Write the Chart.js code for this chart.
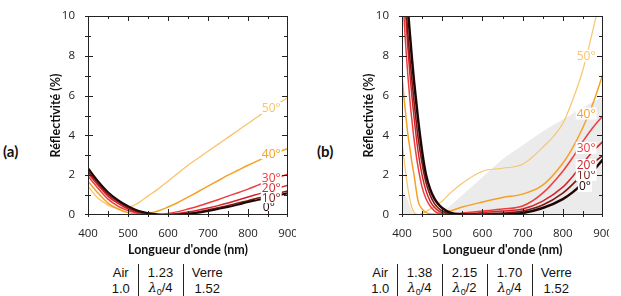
<!DOCTYPE html>
<html>
<head>
<meta charset="utf-8">
<script src="https://cdn.jsdelivr.net/npm/chart.js@4.4.0/dist/chart.umd.min.js"></script>
<style>
  body { margin: 0; background: #fff; width: 621px; height: 296px; overflow: hidden; position: relative; }
  .wrap { position: absolute; top: 0; height: 262px; overflow: hidden; }
  #wrapA { left: 40px; width: 256px; }
  #wrapB { left: 353px; width: 256px; }
  .tag { position: absolute; top: 142px; font: bold 15px Lato, sans-serif; color: #111; }
  table.stack { position: absolute; top: 264px; border-collapse: collapse; table-layout: fixed;
    font: 13px "Liberation Sans", sans-serif; color: #111; }
  table.stack td { height: 16px; line-height: 15px; padding: 0; text-align: center; }
  table.stack td + td { border-left: 1px solid #222; }
  .lam { font-family: "DejaVu Serif", serif; font-style: italic; }
  .sub { font-size: 9px; position: relative; top: 3px; }
</style>
</head>
<body>
<div class="tag" style="left:3px">(a)</div>
<div class="tag" style="left:317px">(b)</div>
<div class="wrap" id="wrapA"><canvas id="chartA" width="270" height="260"></canvas></div>
<div class="wrap" id="wrapB"><canvas id="chartB" width="272" height="260"></canvas></div>

<table class="stack" style="left:104px">
  <colgroup><col style="width:34px"><col style="width:45px"><col style="width:48px"></colgroup>
  <tr><td>Air</td><td>1.23</td><td>Verre</td></tr>
  <tr><td>1.0</td><td><span class="lam">λ</span><span class="sub">0</span>/4</td><td>1.52</td></tr>
</table>
<table class="stack" style="left:364px">
  <colgroup><col style="width:33px"><col style="width:45px"><col style="width:45px"><col style="width:45px"><col style="width:48px"></colgroup>
  <tr><td>Air</td><td>1.38</td><td>2.15</td><td>1.70</td><td>Verre</td></tr>
  <tr><td>1.0</td><td><span class="lam">λ</span><span class="sub">0</span>/4</td><td><span class="lam">λ</span><span class="sub">0</span>/2</td><td><span class="lam">λ</span><span class="sub">0</span>/4</td><td>1.52</td></tr>
</table>

<script>
// incidence angles, shared by both panels
var angles = ['0°', '10°', '20°', '30°', '40°', '50°'];
var angleColors = ['#1f0505', '#7e1a14', '#d0232b', '#ef3d3d', '#f4a125', '#f8c56c'];

// panel (a): single layer, reflectivity (%) vs wavelength (nm)
var waveA = [400, 425, 450, 475, 500, 525, 550, 575, 600, 625, 650, 675, 700, 725, 750, 775, 800, 825, 850, 875, 900];
var a0  = [2.35, 1.7, 1.15, 0.75, 0.45, 0.22, 0.1, 0.03, 0.0, 0.01, 0.05, 0.11, 0.2, 0.3, 0.4, 0.52, 0.65, 0.76, 0.88, 0.99, 1.1];
var a10 = [2.2, 1.6, 1.05, 0.67, 0.37, 0.17, 0.07, 0.02, 0.01, 0.03, 0.08, 0.15, 0.25, 0.36, 0.47, 0.6, 0.72, 0.85, 0.97, 1.09, 1.2];
var a20 = [2.1, 1.5, 0.95, 0.58, 0.3, 0.12, 0.04, 0.01, 0.03, 0.08, 0.15, 0.24, 0.35, 0.47, 0.6, 0.75, 0.9, 1.05, 1.2, 1.35, 1.5];
var a30 = [1.95, 1.35, 0.8, 0.45, 0.22, 0.08, 0.02, 0.03, 0.08, 0.17, 0.3, 0.44, 0.6, 0.77, 0.95, 1.12, 1.3, 1.5, 1.7, 1.88, 2.05];
var a40 = [1.7, 1.1, 0.6, 0.3, 0.12, 0.05, 0.08, 0.2, 0.4, 0.63, 0.9, 1.17, 1.45, 1.72, 2.0, 2.25, 2.5, 2.73, 2.95, 3.15, 3.35];
var a50 = [1.45, 0.85, 0.5, 0.35, 0.38, 0.6, 0.95, 1.3, 1.7, 2.1, 2.5, 2.85, 3.2, 3.55, 3.9, 4.25, 4.6, 4.95, 5.3, 5.6, 5.9];
var labelWaveA = [852, 858, 858, 858, 858, 858];
var labelValA  = [0.4, 0.9, 1.4, 1.9, 3.1, 5.38];

// panel (b): three-layer stack
var waveB = [400, 405, 410, 415, 420, 425, 430, 440, 450, 460, 470, 480, 490, 500, 520, 550, 600, 650, 700, 750, 800, 825, 850, 875, 900];
var b0  = [16, 14, 12, 10.3, 9.0, 7.8, 6.7, 4.8, 3.2, 2.0, 1.3, 0.85, 0.55, 0.35, 0.12, 0.03, 0.0, 0.02, 0.1, 0.35, 0.8, 1.15, 1.6, 2.2, 2.8];
var b10 = [15, 13, 10.5, 9.0, 7.8, 6.7, 5.7, 3.9, 2.6, 1.6, 1.0, 0.6, 0.35, 0.2, 0.07, 0.04, 0.05, 0.1, 0.2, 0.5, 1.1, 1.55, 2.1, 2.6, 3.0];
var b20 = [14, 12, 9.8, 8.3, 7.0, 5.9, 4.9, 3.2, 2.0, 1.2, 0.7, 0.4, 0.22, 0.12, 0.05, 0.05, 0.12, 0.2, 0.3, 0.7, 1.4, 1.95, 2.6, 3.2, 3.7];
var b30 = [12.5, 10, 8.3, 6.9, 5.7, 4.7, 3.8, 2.4, 1.4, 0.8, 0.45, 0.22, 0.1, 0.06, 0.05, 0.1, 0.2, 0.3, 0.45, 1.1, 2.2, 2.9, 3.7, 4.4, 5.0];
var b40 = [7.0, 5.9, 4.9, 4.0, 3.3, 2.6, 2.0, 0.7, 0.3, 0.12, 0.06, 0.05, 0.07, 0.1, 0.2, 0.4, 0.65, 0.88, 1.05, 1.5, 2.6, 3.4, 4.4, 5.6, 7.1];
var b50 = [3.7, 2.8, 2.0, 1.3, 0.75, 0.35, 0.12, 0.02, 0.08, 0.18, 0.3, 0.42, 0.55, 0.7, 1.1, 1.6, 2.2, 2.35, 2.55, 3.4, 4.6, 5.8, 7.3, 9.3, 11.5];
// grey band behind the curves
var waveGrey = [400, 415, 432, 480, 500, 550, 600, 650, 700, 750, 800, 850, 900];
var greyTop  = [1.3, 0.7, 0, 0, 0.15, 1.0, 1.9, 2.8, 3.5, 4.2, 4.8, 5.4, 5.95];
var labelWaveB = [855, 858, 858, 858, 858, 858];
var labelValB  = [1.46, 2.01, 2.51, 3.37, 5.1, 8.0];

function pts(xs, ys) {
    return xs.map(function(x, i) { return { x: x, y: ys[i] }; });
}

function curve(idx, xs, ys, width) {
    return {
        label: angles[idx],
        data: pts(xs, ys),
        borderColor: angleColors[idx],
        borderWidth: width,
        pointRadius: 0,
        fill: false,
        cubicInterpolationMode: 'monotone'
    };
}

// angle labels (white box hides the curve underneath), then the box and its ticks,
// all positioned through the x / y scales
var overlay = {
    id: 'overlay',
    afterDraw: function(chart) {
        var ctx = chart.ctx, x = chart.scales.x, y = chart.scales.y;
        var waves = chart.options.plugins.overlay.waves, vals = chart.options.plugins.overlay.vals;
        ctx.save();
        ctx.font = '12px "Open Sans"';
        ctx.textAlign = 'center';
        ctx.textBaseline = 'middle';
        for (var i = 0; i < waves.length; i++) {
            var lx = x.getPixelForValue(waves[i]), ly = y.getPixelForValue(vals[i]);
            var tw = ctx.measureText(angles[i]).width;
            ctx.fillStyle = '#fff';
            ctx.fillRect(lx - tw / 2 - 1, ly - 6, tw + 2, 12);
            ctx.fillStyle = angleColors[i];
            ctx.fillText(angles[i], lx, ly + 1);
        }

        var L = Math.round(x.getPixelForValue(x.min));
        var R = Math.round(x.getPixelForValue(x.max)) - 1;
        var T = Math.round(y.getPixelForValue(y.max));
        var B = Math.round(y.getPixelForValue(y.min)) - 1;
        ctx.fillStyle = '#222';
        ctx.fillRect(L, T, R - L + 1, 1);
        ctx.fillRect(L, B, R - L + 1, 1);
        ctx.fillRect(L, T, 1, B - T + 1);
        ctx.fillRect(R, T, 1, B - T + 1);
        for (var v = x.min; v <= x.max; v += 50) {
            var tx = Math.min(Math.round(x.getPixelForValue(v)), R);
            var len = (v % 100 === 0) ? 5 : 3;
            ctx.fillRect(tx, B - len, 1, len + 3);
            ctx.fillRect(tx, T, 1, len);
        }
        for (var k = y.min; k <= y.max; k++) {
            var ty = Math.min(Math.round(y.getPixelForValue(k)), B);
            var l2 = (k % 2 === 0) ? 5 : 3;
            ctx.fillRect(L - 3, ty, l2 + 3, 1);
            ctx.fillRect(R - l2, ty, l2, 1);
        }
        ctx.restore();
    }
};

var tickFont = { family: 'Open Sans', size: 11.5 };
var titleFont = { family: 'Lato', weight: 'bold', size: 12.5 };

function makeOptions(labelWaves, labelVals, yWidth) {
    return {
        responsive: false,
        animation: false,
        layout: { padding: { top: 16, right: 22, bottom: 0, left: 0 } },
        plugins: {
            legend: { display: false },
            tooltip: { enabled: false },
            overlay: { waves: labelWaves, vals: labelVals }
        },
        scales: {
            x: {
                type: 'linear', min: 400, max: 900,
                grid: { display: false }, border: { display: false },
                ticks: { stepSize: 100, padding: 4, color: '#222', font: tickFont },
                title: { display: true, text: "Longueur d'onde (nm)", color: '#111',
                    font: titleFont, padding: { top: 0, bottom: 3 } },
                afterFit: function(s) { s.height = 45; }
            },
            y: {
                min: 0, max: 10,
                grid: { display: false }, border: { display: false },
                ticks: { stepSize: 2, padding: 5, color: '#222', font: tickFont },
                title: { display: true, text: 'Réflectivité (%)', color: '#111',
                    font: titleFont, padding: { top: 8, bottom: 0 } },
                afterFit: function(s) { s.width = yWidth; }
            }
        }
    };
}

new Chart(document.getElementById('chartA'), {
    type: 'line',
    data: {
        datasets: [
            curve(0, waveA, a0, 2),
            curve(1, waveA, a10, 1.6),
            curve(2, waveA, a20, 1.5),
            curve(3, waveA, a30, 1.5),
            curve(4, waveA, a40, 1.5),
            curve(5, waveA, a50, 1.3)
        ]
    },
    options: makeOptions(labelWaveA, labelValA, 48),
    plugins: [overlay]
});

new Chart(document.getElementById('chartB'), {
    type: 'line',
    data: {
        datasets: [
            curve(0, waveB, b0, 2.5),
            curve(1, waveB, b10, 1.6),
            curve(2, waveB, b20, 1.5),
            curve(3, waveB, b30, 1.5),
            curve(4, waveB, b40, 1.5),
            curve(5, waveB, b50, 1.2),
            {
                label: 'bande',
                data: pts(waveGrey, greyTop),
                borderWidth: 0,
                borderColor: 'rgba(0,0,0,0)',
                backgroundColor: '#ebebeb',
                pointRadius: 0,
                fill: 'origin',
                cubicInterpolationMode: 'monotone'
            }
        ]
    },
    options: makeOptions(labelWaveB, labelValB, 49),
    plugins: [overlay]
});
</script>
</body>
</html>
